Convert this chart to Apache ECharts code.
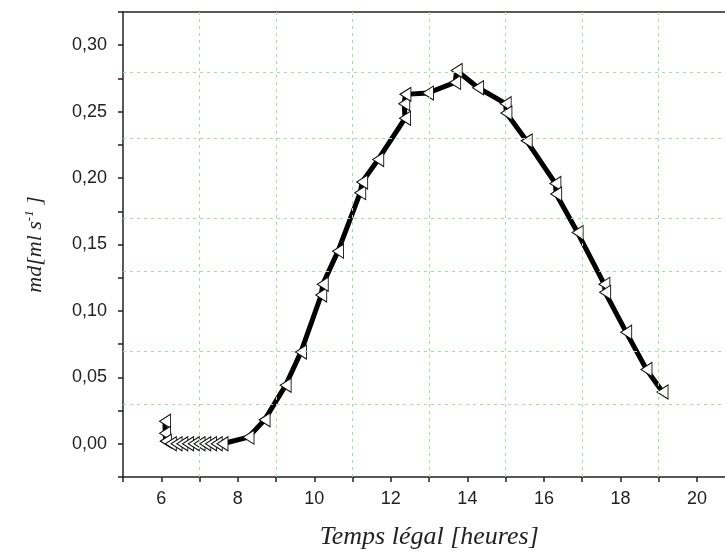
<!DOCTYPE html>
<html>
<head>
<meta charset="utf-8">
<script src="https://cdn.jsdelivr.net/npm/echarts@6/dist/echarts.min.js"></script>
<style>
html,body{margin:0;padding:0;background:#fff;overflow:hidden;}
#chart{width:725px;height:554px;}
</style>
</head>
<body>
<div id="chart"></div>
<script>
// Data
var hours = [6.10, 6.10, 6.12, 6.25, 6.40, 6.55, 6.70, 6.85, 7.00, 7.15, 7.30, 7.45, 7.60,
  8.28, 8.70, 9.25, 9.65, 10.18, 10.22, 10.62, 11.20, 11.25, 11.67,
  12.37, 12.35, 12.38, 12.97, 13.68, 13.72, 14.28, 15.00, 15.02, 15.55,
  16.30, 16.32, 16.88, 17.58, 17.60, 18.15, 18.68, 19.10];
var md = [0.017, 0.008, 0.002, 0.000, 0.000, 0.000, 0.000, 0.000, 0.000, 0.000, 0.000, 0.000, 0.000,
  0.005, 0.018, 0.044, 0.069, 0.112, 0.120, 0.145, 0.189, 0.197, 0.214,
  0.245, 0.256, 0.263, 0.264, 0.272, 0.281, 0.268, 0.256, 0.249, 0.228,
  0.196, 0.188, 0.159, 0.120, 0.114, 0.084, 0.056, 0.039];

// Tick labels
var xTickValues = [6, 8, 10, 12, 14, 16, 18, 20];
var xTickLabels = ['6', '8', '10', '12', '14', '16', '18', '20'];
var yTickValues = [0.00, 0.05, 0.10, 0.15, 0.20, 0.25, 0.30];
var yTickLabels = ['0,00', '0,05', '0,10', '0,15', '0,20', '0,25', '0,30'];

// Grid line positions (minor ticks)
var gridHours = [7, 9, 11, 13, 15, 17, 19, 21];
var gridValues = [0.025, 0.075, 0.125, 0.175, 0.225, 0.275];

var seriesData = hours.map(function (h, i) { return [h, md[i]]; });

function lookup(vals, labels, v) {
  for (var i = 0; i < vals.length; i++) {
    if (Math.abs(vals[i] - v) < 1e-6) return labels[i];
  }
  return '';
}

var chart = echarts.init(document.getElementById('chart'), null, {renderer: 'canvas'});
var gridLineStyle = {color: '#a6dca6', width: 1, type: [3, 4]};
var serif = 'Liberation Serif, Times New Roman, serif';
var sans = 'Liberation Sans, Arial, sans-serif';

chart.setOption({
  animation: false,
  backgroundColor: '#ffffff',
  grid: {
    left: 123, top: 12, width: 650.5, height: 465,
    outerBoundsMode: 'none', containLabel: false,
    show: false
  },
  xAxis: [{
    type: 'value', min: 5, max: 22, interval: 1,
    axisLine: {show: true, onZero: false, lineStyle: {color: '#222', width: 1.5}},
    axisTick: {show: true, inside: false, length: 5, lineStyle: {color: '#222', width: 1.5}},
    splitLine: {show: false},
    axisLabel: {
      margin: 13, color: '#222', fontSize: 18, fontFamily: sans,
      formatter: function (v) { return lookup(xTickValues, xTickLabels, v); }
    },
    name: 'Temps légal [heures]',
    nameLocation: 'middle', nameGap: 47,
    nameTextStyle: {fontFamily: serif, fontStyle: 'italic', fontSize: 26, color: '#222',
      padding: [0, 38, 0, 0]}
  }, {
    type: 'value', position: 'top', min: 5, max: 22, interval: 1,
    axisLine: {show: true, onZero: false, lineStyle: {color: '#222', width: 1.5}},
    axisTick: {show: false}, axisLabel: {show: false}, splitLine: {show: false}
  }],
  yAxis: {
    type: 'value', min: -0.025, max: 0.325, interval: 0.025,
    axisLine: {show: true, onZero: false, lineStyle: {color: '#222', width: 1.5}},
    axisTick: {show: true, inside: false, length: 5, lineStyle: {color: '#222', width: 1.5}},
    splitLine: {show: false},
    axisLabel: {
      margin: 16, color: '#222', fontSize: 18, fontFamily: sans,
      formatter: function (v) { return lookup(yTickValues, yTickLabels, v); }
    },
    name: 'md[ml s{sup|-1} ]',
    nameLocation: 'middle', nameGap: 76,
    nameTextStyle: {
      fontFamily: serif, fontStyle: 'italic', fontSize: 22, color: '#222',
      rich: {
        sup: {fontFamily: serif, fontStyle: 'italic', fontSize: 13, color: '#222', padding: [0, 0, 11, 0]}
      }
    }
  },
  series: [
    {
      type: 'line', data: [], z: 1, silent: true, xAxisIndex: 0,
      markLine: {
        silent: true, symbol: ['none', 'none'], label: {show: false}, animation: false,
        lineStyle: gridLineStyle,
        data: gridHours.map(function (h) { return {xAxis: h}; })
          .concat(gridValues.map(function (v) { return {yAxis: v}; }))
      }
    },
    {
      type: 'line', data: seriesData, z: 3, xAxisIndex: 0,
      lineStyle: {color: '#000', width: 5},
      symbol: 'triangle', symbolSize: [14, 11], symbolRotate: 90,
      showAllSymbol: true,
      itemStyle: {color: '#ffffff', borderColor: '#111', borderWidth: 1}
    }
  ]
});
</script>
</body>
</html>
